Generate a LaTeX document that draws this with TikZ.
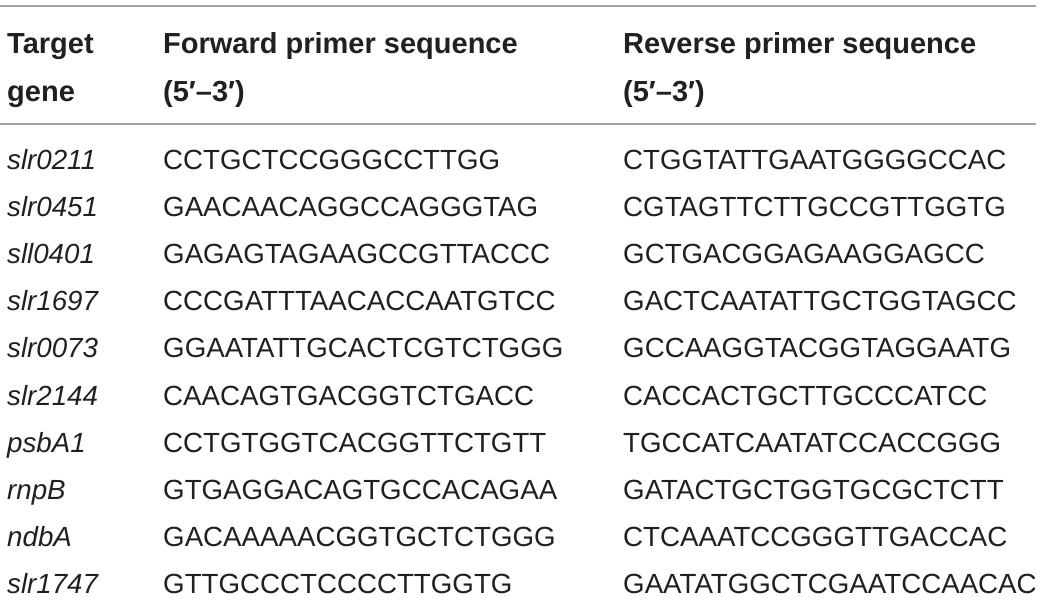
\documentclass[tikz,border=0pt]{standalone}
\usepackage{fontspec}
\setmainfont{Liberation Sans}
\definecolor{ink}{HTML}{231F20}
\definecolor{rule}{HTML}{A0A0A0}
\begin{document}
\begin{tikzpicture}[x=1pt,y=-1pt,
  cell/.style={anchor=base west,inner sep=0pt,text=ink,font=\fontsize{27.7}{32}\selectfont},
  head/.style={cell,font=\fontsize{29}{34}\selectfont\bfseries},
  gene/.style={cell,font=\fontsize{27.7}{32}\selectfont\itshape}]
\useasboundingbox (0,0) rectangle (1041,602);
\draw[rule,line width=1.5pt] (0,6) -- (1036,6);
\draw[rule,line width=1.5pt] (0,124) -- (1036,124);
% header
\node[head] (h1a) at (7,53) {Target};
\node[head] (h1b) at (7,101) {gene};
\node[head] (h2a) at (163,53) {Forward primer sequence};
\node[head] (h2b) at (163,101) {(5′–3′)};
\node[head] (h3a) at (623,53) {Reverse primer sequence};
\node[head] (h3b) at (623,101) {(5′–3′)};
% rows
\node[gene] (g1) at (7,169) {slr0211};
\node[cell] (f1) at (163,169) {CCTGCTCCGGGCCTTGG};
\node[cell] (r1) at (623,169) {CTGGTATTGAATGGGGCCAC};
\node[gene] (g2) at (7,216.2) {slr0451};
\node[cell] (f2) at (163,216.2) {GAACAACAGGCCAGGGTAG};
\node[cell] (r2) at (623,216.2) {CGTAGTTCTTGCCGTTGGTG};
\node[gene] (g3) at (7,263.4) {sll0401};
\node[cell] (f3) at (163,263.4) {GAGAGTAGAAGCCGTTACCC};
\node[cell] (r3) at (623,263.4) {GCTGACGGAGAAGGAGCC};
\node[gene] (g4) at (7,310.6) {slr1697};
\node[cell] (f4) at (163,310.6) {CCCGATTTAACACCAATGTCC};
\node[cell] (r4) at (623,310.6) {GACTCAATATTGCTGGTAGCC};
\node[gene] (g5) at (7,357.8) {slr0073};
\node[cell] (f5) at (163,357.8) {GGAATATTGCACTCGTCTGGG};
\node[cell] (r5) at (623,357.8) {GCCAAGGTACGGTAGGAATG};
\node[gene] (g6) at (7,405) {slr2144};
\node[cell] (f6) at (163,405) {CAACAGTGACGGTCTGACC};
\node[cell] (r6) at (623,405) {CACCACTGCTTGCCCATCC};
\node[gene] (g7) at (7,452.2) {psbA1};
\node[cell] (f7) at (163,452.2) {CCTGTGGTCACGGTTCTGTT};
\node[cell] (r7) at (623,452.2) {TGCCATCAATATCCACCGGG};
\node[gene] (g8) at (7,499.4) {rnpB};
\node[cell] (f8) at (163,499.4) {GTGAGGACAGTGCCACAGAA};
\node[cell] (r8) at (623,499.4) {GATACTGCTGGTGCGCTCTT};
\node[gene] (g9) at (7,546.6) {ndbA};
\node[cell] (f9) at (163,546.6) {GACAAAAACGGTGCTCTGGG};
\node[cell] (r9) at (623,546.6) {CTCAAATCCGGGTTGACCAC};
\node[gene] (g10) at (7,593.8) {slr1747};
\node[cell] (f10) at (163,593.8) {GTTGCCCTCCCCTTGGTG};
\node[cell] (r10) at (623,593.8) {GAATATGGCTCGAATCCAACAC};
\end{tikzpicture}
\end{document}
